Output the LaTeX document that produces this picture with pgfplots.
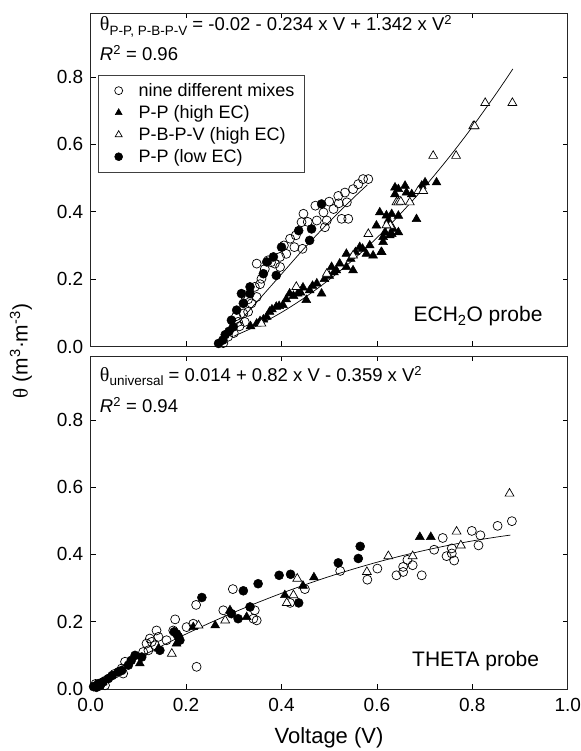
\documentclass[border=0pt]{standalone}
\usepackage{fontspec}
\setmainfont{Liberation Sans}
\newfontfamily\serifgreek{Liberation Serif}
\usepackage{pgfplots}
\pgfplotsset{compat=1.18}
\newcommand\thsym{{\serifgreek θ}}
\pgfplotsset{
  panel/.style={
    scale only axis, width=477bp, height=333.5bp,
    xmin=0, xmax=1, ymin=0, ymax=0.99,
    xtick={0,0.2,0.4,0.6,0.8,1.0}, ytick={0,0.2,0.4,0.6,0.8},
    tick align=inside, major tick length=5bp,
    axis line style={line width=0.9bp, black!85},
    every tick/.style={black, line width=0.8bp},
    ticklabel style={font=\fontsize{19bp}{22bp}\selectfont},
    /pgf/number format/assume math mode=true,
    xticklabel style={yshift=-6bp, /pgf/number format/.cd, fixed, fixed zerofill, precision=1},
    yticklabel style={xshift=-4bp, /pgf/number format/.cd, fixed, fixed zerofill, precision=1},
  },
  oc/.style={only marks, mark=o, mark size=4.5bp, mark options={fill=white, draw=black, line width=0.7bp}},
  fc/.style={only marks, mark=*, mark size=4.5bp, mark options={fill=black, draw=black, line width=0.5bp}},
  ot/.style={only marks, mark=triangle*, mark size=5.1bp, mark options={fill=white, draw=black, line width=0.7bp}},
  ft/.style={only marks, mark=triangle*, mark size=5.1bp, mark options={fill=black, draw=black, line width=0.5bp}},
  fit/.style={black, line width=0.7bp, no marks, smooth, forget plot},
}
\begin{document}
\begin{tikzpicture}
\path[use as bounding box] (0bp,0bp) rectangle (581bp,751bp);
% ---------------- top panel -----------------
\begin{axis}[panel, at={(90.7bp,404.5bp)}, anchor=south west, xticklabels={},
  legend style={at={(0.016,0.814)}, anchor=north west, draw=black!75, line width=0.7bp,
    font=\fontsize{18bp}{21bp}\selectfont, row sep=3.5bp, inner xsep=8bp, inner ysep=6bp},
  legend image code/.code={\path[draw=none,fill=none] (0bp,-4bp) rectangle (30bp,4bp); \draw[#1,mark size=4bp] plot coordinates {(12bp,0bp)};},
  legend cell align=left]
\addplot[oc] coordinates {
(0.288,0.029)(0.309,0.073)(0.323,0.073)(0.320,0.098)(0.330,0.103)(0.337,0.128)(0.323,0.152)
(0.348,0.147)(0.344,0.177)(0.358,0.201)(0.372,0.256)(0.386,0.246)(0.397,0.236)(0.410,0.275)
(0.427,0.295)(0.444,0.290)(0.442,0.369)(0.446,0.394)(0.474,0.374)(0.471,0.418)(0.488,0.398)
(0.491,0.354)(0.495,0.374)(0.509,0.408)(0.526,0.379)(0.540,0.379)(0.537,0.428)(0.519,0.447)
(0.533,0.457)(0.550,0.467)(0.561,0.482)(0.571,0.497)(0.582,0.497)(0.348,0.246)(0.397,0.266)
(0.278,0.010)(0.300,0.040)(0.312,0.060)(0.305,0.090)(0.330,0.140)(0.355,0.185)(0.365,0.230)
(0.378,0.250)(0.405,0.300)(0.418,0.320)(0.430,0.330)(0.455,0.370)(0.500,0.430)(0.520,0.425)
};
\addlegendentry{nine different mixes}
\addplot[ft] coordinates {
(0.348,0.068)(0.369,0.088)(0.375,0.103)(0.389,0.118)(0.403,0.123)(0.417,0.157)(0.434,0.157)
(0.452,0.138)(0.459,0.167)(0.474,0.187)(0.484,0.157)(0.505,0.236)(0.515,0.226)(0.522,0.246)
(0.536,0.236)(0.550,0.226)(0.536,0.275)(0.564,0.295)(0.578,0.275)(0.592,0.270)(0.609,0.280)
(0.599,0.359)(0.606,0.398)(0.620,0.389)(0.634,0.349)(0.638,0.472)(0.613,0.325)(0.627,0.330)
(0.610,0.280)(0.613,0.310)(0.617,0.339)(0.624,0.374)(0.631,0.334)(0.645,0.339)(0.631,0.393)
(0.645,0.388)(0.638,0.452)(0.645,0.467)(0.659,0.477)(0.662,0.457)(0.673,0.452)(0.683,0.378)
(0.694,0.477)(0.701,0.487)(0.725,0.487)(0.355,0.075)(0.362,0.080)(0.380,0.110)(0.395,0.120)
(0.410,0.140)(0.425,0.150)(0.440,0.160)(0.445,0.175)(0.465,0.180)(0.490,0.200)(0.500,0.210)
(0.510,0.220)(0.545,0.260)(0.555,0.280)(0.570,0.290)(0.585,0.300)(0.335,0.060)
};
\addlegendentry{P-P (high EC)}
\addplot[ot] coordinates {
(0.358,0.068)(0.431,0.177)(0.495,0.216)(0.550,0.270)(0.582,0.334)(0.641,0.428)(0.628,0.359)
(0.645,0.428)(0.669,0.428)(0.687,0.462)(0.697,0.462)(0.718,0.566)(0.766,0.566)(0.802,0.654)
(0.805,0.654)(0.827,0.723)(0.884,0.723)(0.650,0.430)(0.620,0.360)
};
\addlegendentry{P-B-P-V (high EC)}
\addplot[fc] coordinates {
(0.268,0.009)(0.277,0.019)(0.299,0.058)(0.295,0.078)(0.306,0.108)(0.320,0.128)(0.334,0.157)
(0.316,0.157)(0.334,0.177)(0.362,0.216)(0.389,0.211)(0.369,0.251)(0.383,0.266)(0.400,0.295)
(0.436,0.344)(0.459,0.315)(0.463,0.349)(0.484,0.423)(0.282,0.035)(0.290,0.045)
};
\addlegendentry{P-P (low EC)}
\addplot[fit] coordinates {
(0.30,0.0306)(0.35,0.0625)(0.40,0.1011)(0.45,0.1465)(0.50,0.1985)(0.55,0.2572)(0.60,0.3227)
(0.65,0.3949)(0.70,0.4738)(0.75,0.5594)(0.80,0.6517)(0.85,0.7507)(0.885,0.8240)};
\addplot[fit] coordinates {
(0.265,0.0)(0.30,0.055)(0.35,0.135)(0.40,0.215)(0.45,0.295)(0.50,0.37)(0.55,0.44)(0.58,0.48)};
\node[anchor=west, font=\fontsize{18.5bp}{21bp}\selectfont] at (rel axis cs:0.012,0.960)
  {{\fontsize{20bp}{22bp}\selectfont\thsym}\raisebox{-0.45ex}{\fontsize{13.5bp}{15bp}\selectfont P-P, P-B-P-V} = -0.02 - 0.234 x V + 1.342 x V\textsuperscript{2}};
\node[anchor=west, font=\fontsize{18.5bp}{21bp}\selectfont] at (rel axis cs:0.012,0.880)
  {\textit{R}\textsuperscript{2} = 0.96};
\node[font=\fontsize{21bp}{25bp}\selectfont] at (rel axis cs:0.812,0.09) {ECH\textsubscript{2}O probe};
\end{axis}
% ---------------- bottom panel -----------------
\begin{axis}[panel, at={(90.7bp,62bp)}, anchor=south west, height=333bp]
\addplot[oc] coordinates {
(0.030,0.011)(0.065,0.061)(0.068,0.046)(0.072,0.081)(0.110,0.110)(0.117,0.135)(0.121,0.115)
(0.128,0.140)(0.124,0.150)(0.138,0.174)(0.142,0.155)(0.159,0.145)(0.177,0.207)(0.173,0.174)
(0.201,0.184)(0.215,0.194)(0.222,0.066)(0.221,0.250)(0.278,0.234)(0.298,0.297)(0.341,0.209)
(0.344,0.234)(0.348,0.204)(0.418,0.256)(0.449,0.297)(0.523,0.351)(0.580,0.325)(0.601,0.358)
(0.641,0.338)(0.655,0.348)(0.655,0.363)(0.664,0.384)(0.675,0.368)(0.694,0.338)(0.720,0.414)
(0.738,0.449)(0.746,0.395)(0.757,0.403)(0.757,0.418)(0.762,0.382)(0.799,0.470)(0.813,0.427)
(0.817,0.457)(0.853,0.485)(0.883,0.499)(0.010,0.015)(0.050,0.045)(0.135,0.130)
};
\addplot[ft] coordinates {
(0.103,0.076)(0.142,0.120)(0.180,0.135)(0.215,0.184)(0.261,0.189)(0.292,0.234)(0.327,0.214)
(0.407,0.279)(0.445,0.307)(0.468,0.332)(0.690,0.452)(0.713,0.452)(0.025,0.020)
};
\addplot[ot] coordinates {
(0.170,0.105)(0.226,0.189)(0.282,0.204)(0.411,0.256)(0.425,0.279)(0.433,0.328)(0.579,0.348)
(0.624,0.395)(0.675,0.395)(0.767,0.468)(0.776,0.427)(0.878,0.581)
};
\addplot[fc] coordinates {
(0.006,0.007)(0.016,0.016)(0.026,0.021)(0.037,0.031)(0.058,0.051)(0.079,0.071)(0.093,0.100)
(0.107,0.095)(0.145,0.115)(0.180,0.164)(0.184,0.155)(0.187,0.145)(0.233,0.272)(0.295,0.224)
(0.309,0.209)(0.320,0.292)(0.334,0.244)(0.351,0.313)(0.395,0.338)(0.419,0.341)(0.436,0.256)
(0.519,0.375)(0.561,0.388)(0.565,0.424)(0.012,0.005)(0.020,0.010)(0.045,0.040)(0.065,0.055)
(0.085,0.085)(0.175,0.170)
};
\addplot[fit] coordinates {
(0.005,0.0181)(0.05,0.0541)(0.10,0.0924)(0.15,0.1289)(0.20,0.1636)(0.25,0.1966)(0.30,0.2277)
(0.35,0.2570)(0.40,0.2846)(0.45,0.3103)(0.50,0.3343)(0.55,0.3564)(0.60,0.3768)(0.65,0.3953)
(0.70,0.4121)(0.75,0.4271)(0.80,0.4402)(0.85,0.4516)(0.88,0.4576)};
\node[anchor=west, font=\fontsize{18.5bp}{21bp}\selectfont] at (rel axis cs:0.012,0.94)
  {{\fontsize{20bp}{22bp}\selectfont\thsym}\raisebox{-0.45ex}{\fontsize{13.5bp}{15bp}\selectfont universal} = 0.014 + 0.82 x V - 0.359 x V\textsuperscript{2}};
\node[anchor=west, font=\fontsize{18.5bp}{21bp}\selectfont] at (rel axis cs:0.012,0.853)
  {\textit{R}\textsuperscript{2} = 0.94};
\node[font=\fontsize{21bp}{25bp}\selectfont] at (rel axis cs:0.807,0.085) {THETA probe};
\end{axis}
\node[rotate=90, font=\fontsize{21bp}{25bp}\selectfont] at (21bp,400bp)
  {\thsym\ (m\textsuperscript{3}·m\textsuperscript{-3})};
\node[font=\fontsize{22bp}{26bp}\selectfont] at (329bp,13bp) {Voltage (V)};
\end{tikzpicture}
\end{document}
